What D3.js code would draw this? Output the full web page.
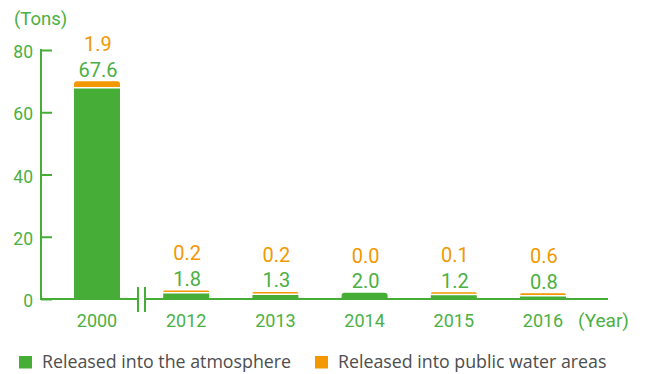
<!DOCTYPE html>
<html>
<head>
<meta charset="utf-8">
<script src="https://cdn.jsdelivr.net/npm/d3@7"></script>
<style>
  html, body { margin: 0; padding: 0; background: #fff; }
  svg { display: block; font-family: Roboto, "Noto Sans", sans-serif; }
</style>
</head>
<body>
<svg id="chart" width="646" height="374"></svg>
<script>
// Emissions by year (tons)
const years = ["2000", "2012", "2013", "2014", "2015", "2016"];
const atmosphere = [67.6, 1.8, 1.3, 2.0, 1.2, 0.8];
const water = [1.9, 0.2, 0.2, 0.0, 0.1, 0.6];
const yTicks = [0, 20, 40, 60, 80];
const legendLabels = ["Released into the atmosphere", "Released into public water areas"];

const GREEN = "#46ae37";
const ORANGE = "#f39800";
const TEXT_GREEN = "#4bb043";

const svg = d3.select("#chart");

const x = d3.scalePoint().domain(years).range([97, 543]);
const y = d3.scaleLinear().domain([0, 80]).range([299, 50]);
const barW = 46;

// Y axis
const yAxis = d3.axisRight(y).tickValues(yTicks).tickSize(11).tickFormat("");
const yg = svg.append("g").attr("transform", "translate(41,0)").call(yAxis);
yg.select(".domain").remove();
yg.selectAll(".tick line").attr("stroke", GREEN).attr("stroke-width", 2);
svg.append("line").attr("x1", 41).attr("x2", 41).attr("y1", y(80) - 1).attr("y2", y(0) + 1)
  .attr("stroke", GREEN).attr("stroke-width", 2);

svg.append("g").selectAll("text").data(yTicks).join("text")
  .attr("x", 33).attr("y", d => y(d) + 8)
  .attr("text-anchor", "end").attr("font-size", 17.5).attr("fill", TEXT_GREEN)
  .text(d => d);

svg.append("text").attr("x", 14).attr("y", 25).attr("font-size", 18.5).attr("fill", TEXT_GREEN).text("(Tons)");

// Baseline with axis break
svg.append("line").attr("x1", 40).attr("x2", 138).attr("y1", y(0)).attr("y2", y(0))
  .attr("stroke", GREEN).attr("stroke-width", 2);
svg.append("line").attr("x1", 145).attr("x2", 608).attr("y1", y(0)).attr("y2", y(0))
  .attr("stroke", GREEN).attr("stroke-width", 2);
[138, 145].forEach(bx => {
  svg.append("line").attr("x1", bx).attr("x2", bx).attr("y1", 287).attr("y2", 312)
    .attr("stroke", GREEN).attr("stroke-width", 2);
});

// Rounded-top rectangle path
function topRounded(x0, y0, w, h, r) {
  r = Math.min(r, h, w / 2);
  return `M${x0},${y0 + h}V${y0 + r}Q${x0},${y0} ${x0 + r},${y0}H${x0 + w - r}Q${x0 + w},${y0} ${x0 + w},${y0 + r}V${y0 + h}Z`;
}

const bars = svg.append("g");
years.forEach((yr, i) => {
  const cx = x(yr);
  const x0 = cx - barW / 2;
  const gTop = y(atmosphere[i]);
  const gH = y(0) - gTop;
  let stackTop = gTop;
  if (water[i] > 0) {
    const oH = Math.max(y(0) - y(water[i]), 1.5);
    const oTop = gTop - 1.5 - oH;
    bars.append("path").attr("d", topRounded(x0, oTop, barW, oH, 3)).attr("fill", ORANGE);
    bars.append("path").attr("d", topRounded(x0, gTop, barW, gH, 0)).attr("fill", GREEN);
    stackTop = oTop;
  } else {
    bars.append("path").attr("d", topRounded(x0, gTop, barW, gH, 3)).attr("fill", GREEN);
  }
  svg.append("text").attr("x", cx + 1).attr("y", stackTop - 4.5)
    .attr("text-anchor", "middle").attr("font-size", 20).attr("fill", TEXT_GREEN)
    .text(atmosphere[i].toFixed(1));
  svg.append("text").attr("x", cx + 1).attr("y", stackTop - 30)
    .attr("text-anchor", "middle").attr("font-size", 20).attr("fill", ORANGE)
    .text(water[i].toFixed(1));
  svg.append("text").attr("x", cx).attr("y", 327)
    .attr("text-anchor", "middle").attr("font-size", 18).attr("fill", TEXT_GREEN)
    .text(yr);
});

svg.append("text").attr("x", 578).attr("y", 327).attr("font-size", 19).attr("fill", TEXT_GREEN).text("(Year)");

// Legend
const legend = [{ c: GREEN, x: 19 }, { c: ORANGE, x: 315 }];
legend.forEach((d, i) => {
  svg.append("rect").attr("x", d.x).attr("y", 356).attr("width", 13).attr("height", 12.5).attr("fill", d.c);
  svg.append("text").attr("x", d.x + 23).attr("y", 368).attr("font-size", 17.8).attr("fill", "#4d4d4d")
    .style("font-family", "'Open Sans', Roboto, sans-serif")
    .text(legendLabels[i]);
});
</script>
</body>
</html>
